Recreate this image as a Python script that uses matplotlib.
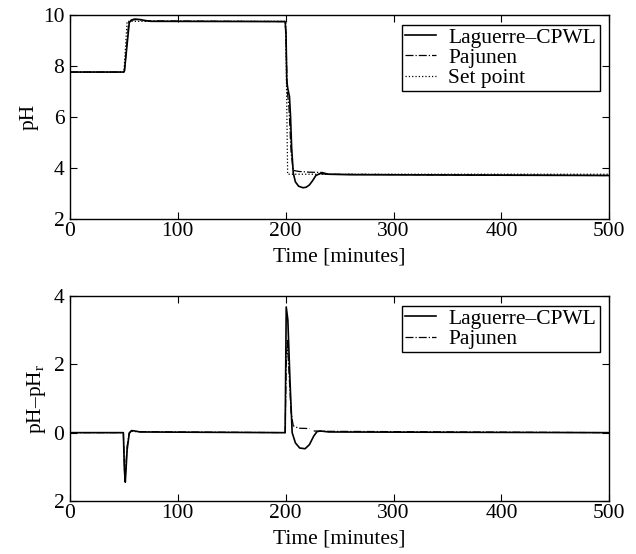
import numpy as np
import matplotlib
matplotlib.use('Agg')
import matplotlib.pyplot as plt

plt.rcParams['font.family'] = ['Liberation Serif', 'DejaVu Serif']
plt.rcParams['mathtext.fontset'] = 'custom'
plt.rcParams['mathtext.rm'] = 'Liberation Serif'
plt.rcParams['font.size'] = 15.5

# top panel: pH (key points)
lag_t = [0, 49.5, 50.5, 55, 57, 60, 65, 70, 75, 199.5, 200.3, 201, 202, 203.5, 204.5,
         205.5, 207, 209, 212, 216, 219, 222, 225, 228, 232, 240, 260, 500]
lag_ph = [7.76, 7.76, 7.8, 9.7, 9.8, 9.84, 9.82, 9.78, 9.75, 9.74, 9.3, 7.4, 7.1, 6.8, 6.0,
          4.8, 3.8, 3.45, 3.28, 3.22, 3.24, 3.33, 3.5, 3.7, 3.78, 3.75, 3.73, 3.7]

paj_t = [0, 49.5, 50.5, 54.5, 57, 62, 70, 199.5, 200.3, 201.5, 203, 205, 207, 212,
         222, 234, 240, 500]
paj_ph = [7.76, 7.76, 7.8, 9.7, 9.8, 9.82, 9.77, 9.74, 9.0, 7.0, 6.4, 4.6, 3.9, 3.86,
          3.83, 3.82, 3.75, 3.7]

sp_t = [0, 50, 53, 200, 201.8, 500]
sp_ph = [7.75, 7.75, 9.75, 9.75, 3.75, 3.75]

# bottom panel: pH - pH_r
lagd_t = [0, 49.5, 50.5, 51.3, 53, 55, 57, 60, 65, 199.5, 200.5, 202, 204, 206, 209,
          213, 218, 222, 226, 229, 232, 240, 500]
lagd = [0.0, 0.0, -1.1, -1.45, -0.5, -0.02, 0.06, 0.05, 0.02, 0.0, 3.68, 3.3, 1.5, 0.0,
        -0.3, -0.45, -0.47, -0.35, -0.1, 0.03, 0.05, 0.02, 0.0]

pajd_t = [0, 49.5, 50.5, 51.0, 53, 55, 57, 60, 199.5, 200.5, 201.5, 203, 205, 207,
          212, 222]
pajd = [0.0, 0.0, -1.0, -1.4, -0.4, 0.0, 0.05, 0.03, 0.0, 2.0, 2.7, 1.8, 0.6, 0.2,
        0.13, 0.12]
pajd_t2 = [226, 232, 500]
pajd2 = [0.05, 0.04, 0.0]

xticks = [0, 100, 200, 300, 400, 500]

fig = plt.figure(figsize=(6.36, 5.54), dpi=100)
ax1 = fig.add_axes([0.110, 0.605, 0.848, 0.368])
ax2 = fig.add_axes([0.110, 0.0957, 0.848, 0.370])

ax1.plot(lag_t, lag_ph, '-', color='black', lw=1.2, label='Laguerre–CPWL')
ax1.plot(paj_t, paj_ph, '-.', color='black', lw=0.9, label='Pajunen')
ax1.plot(sp_t, sp_ph, ':', color='black', lw=0.9, label='Set point')
ax1.set_xlim(0, 500)
ax1.set_ylim(2, 10)
ax1.set_yticks([2, 4, 6, 8, 10])
ax1.set_ylabel('pH', labelpad=3)

ax2.plot(lagd_t, lagd, '-', color='black', lw=1.2, label='Laguerre–CPWL')
ax2.plot(pajd_t, pajd, '-.', color='black', lw=0.9, label='Pajunen')
ax2.plot(pajd_t2, pajd2, '-.', color='black', lw=0.9)
ax2.set_xlim(0, 500)
ax2.set_ylim(-2, 4)
ax2.set_yticks([-2, 0, 2, 4])
ax2.set_yticklabels(['2', '0', '2', '4'])
ax2.set_ylabel('pH–pH$_\\mathrm{r}$', labelpad=4)

for ax in (ax1, ax2):
    ax.set_xticks(xticks)
    ax.set_xlabel('Time [minutes]', labelpad=5)
    ax.tick_params(direction='in', top=True, right=True, length=5, width=0.8)
    ax.tick_params(axis='x', pad=2)
    ax.tick_params(axis='y', pad=4)
    for s in ax.spines.values():
        s.set_linewidth(1.0)
    leg = ax.legend(loc='upper right', fancybox=False, framealpha=1, edgecolor='black',
                    borderaxespad=0.45, handlelength=1.4, handletextpad=0.6,
                    borderpad=0.15, labelspacing=0.0, fontsize=15.5)
    leg.get_frame().set_linewidth(1.0)

fig.savefig('out.png', dpi=100)
